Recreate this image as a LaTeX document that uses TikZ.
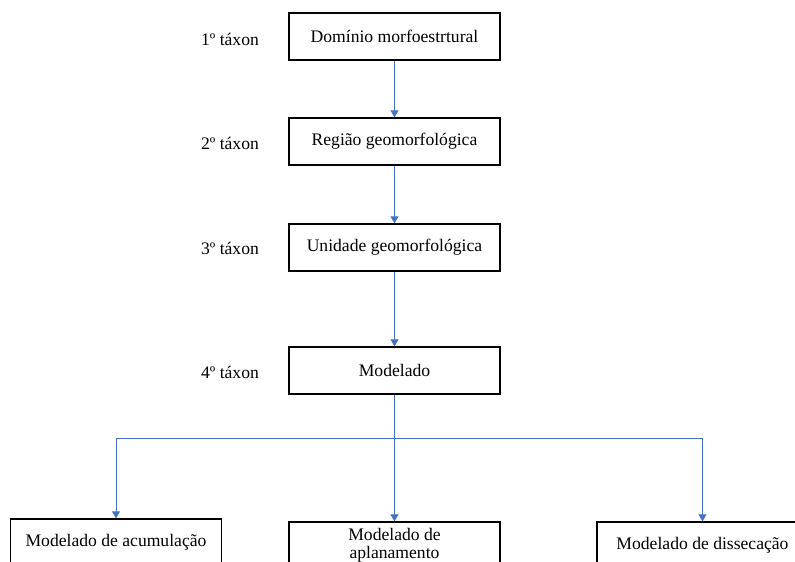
\documentclass[tikz,border=0pt]{standalone}
\usepackage{fontspec}
\setmainfont{Liberation Serif}
\usetikzlibrary{arrows.meta}
\definecolor{azul}{HTML}{4472C4}
\tikzset{
    taxbox/.style={draw=black, line width=1.3pt, minimum width=211pt, minimum height=47pt,
        inner sep=0pt, align=center, font=\fontsize{17.6}{18}\selectfont},
    taxlabel/.style={font=\fontsize{17.6}{18}\selectfont},
    seta/.style={draw=azul, line width=0.9pt, -{Triangle[width=8pt,length=7pt]}}
}
\begin{document}
\begin{tikzpicture}[x=1pt, y=-1pt]
        \useasboundingbox (0,0) rectangle (795,562);
        \clip (0,0) rectangle (795,562);
        % niveis taxonomicos
        \node[taxbox] (dom) at (394.5, 36.5) {Domínio morfoestrtural};
        \node[taxbox] (reg) at (394.5, 141.5) {Região geomorfológica};
        \node[taxbox] (uni) at (394.5, 247.5) {Unidade geomorfológica};
        \node[taxbox] (mod) at (394.5, 370.5) {Modelado};
        \foreach \n/\y in {1/39, 2/143, 3/248, 4/372} {
            \node[taxlabel] (tax\n) at (230, \y) {\n º táxon};
        }
        % modelados
        \node[taxbox] (acum) at (116, 542.5) {Modelado de acumulação};
        \node[taxbox] (aplan) at (394.5, 545.5) {Modelado de\\aplanamento};
        \node[taxbox] (disse) at (702.5, 545.5) {Modelado de dissecação};
        % setas
        \foreach \a/\b in {dom/reg, reg/uni, uni/mod, mod/aplan} {
            \draw[seta] (\a.south) -- (\b.north);
        }
        \coordinate (split) at (394.5, 438);
        \draw[seta] (split) -| (acum.north);
        \draw[seta] (split) -| (disse.north);
    \end{tikzpicture}
\end{document}
